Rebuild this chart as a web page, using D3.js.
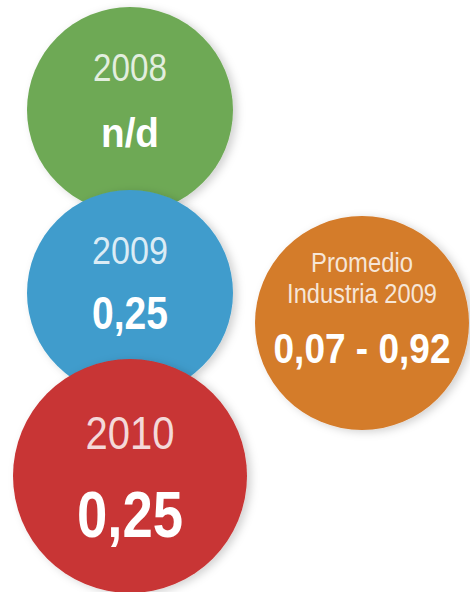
<!DOCTYPE html>
<html>
<head>
<meta charset="utf-8">
<script src="https://cdn.jsdelivr.net/npm/d3@7"></script>
<style>
html,body{margin:0;padding:0;background:#fff;}
svg{display:block;}
text{font-family:"Liberation Sans","Helvetica",sans-serif;}
</style>
</head>
<body>
<svg id="chart" width="470" height="592"></svg>
<script>
const categories = ["2008", "2009", "2010"];
const values = ["n/d", "0,25", "0,25"];
const benchmarkLabel = ["Promedio", "Industria 2009"];
const benchmarkValue = "0,07 - 0,92";
const colors = ["#6ea955", "#3f9ccc", "#c83434"];
const benchmarkColor = "#d47b2b";

const svg = d3.select("#chart");
const defs = svg.append("defs");
const f = defs.append("filter").attr("id","sh").attr("x","-20%").attr("y","-20%").attr("width","150%").attr("height","150%");
f.append("feDropShadow").attr("dx",4).attr("dy",2).attr("stdDeviation",4).attr("flood-color","#000").attr("flood-opacity",0.18);

const y = d3.scalePoint().domain(categories).range([110, 476]);
const r = d3.scaleOrdinal().domain(categories).range([103, 103, 117]);
const yearY = d3.scaleOrdinal().domain(categories).range([-29, -29, -27]);
const yearSize = d3.scaleOrdinal().domain(categories).range([38, 38, 47]);
const yearW = d3.scaleOrdinal().domain(categories).range([74, 76, 89]);
const valY = d3.scaleOrdinal().domain(categories).range([37, 36, 61]);
const valSize = d3.scaleOrdinal().domain(categories).range([40, 46, 64]);
const valW = d3.scaleOrdinal().domain(categories).range([58, 76, 106]);
const cx = 130;

// condensed text: place in a group and squeeze horizontally to a target width
function condensed(parent, txt, yPos, size, width, opts) {
  const gg = parent.append("g");
  const t = gg.append("text").attr("text-anchor","middle")
    .attr("font-size", size).attr("fill", opts.fill)
    .attr("font-weight", opts.bold ? "bold" : "normal").text(txt);
  const nat = t.node().getComputedTextLength();
  gg.attr("transform", `translate(0,${yPos}) scale(${width/nat},1)`);
  return gg;
}

const g = svg.selectAll("g.c").data(categories).enter().append("g")
  .attr("class","c").attr("transform", d => `translate(${cx},${y(d)})`);
g.append("circle").attr("r", d => r(d)).attr("fill", (d,i) => colors[i]).attr("filter","url(#sh)");
g.each(function(d, i) {
  const s = d3.select(this);
  condensed(s, d, yearY(d), yearSize(d), yearW(d), {fill:"rgba(255,255,255,0.82)"});
  condensed(s, values[i], valY(d), valSize(d), valW(d), {fill:"#fff", bold:true});
});

const ob = svg.append("g").attr("transform", "translate(362,323)");
ob.append("circle").attr("r",107).attr("fill",benchmarkColor).attr("filter","url(#sh)");
const lw = [102, 150];
benchmarkLabel.forEach((d,i) => condensed(ob, d, i===0 ? -51 : -20, 28, lw[i], {fill:"rgba(255,255,255,0.82)"}));
condensed(ob, benchmarkValue, 40, 42, 177, {fill:"#fff", bold:true});
</script>
</body>
</html>
